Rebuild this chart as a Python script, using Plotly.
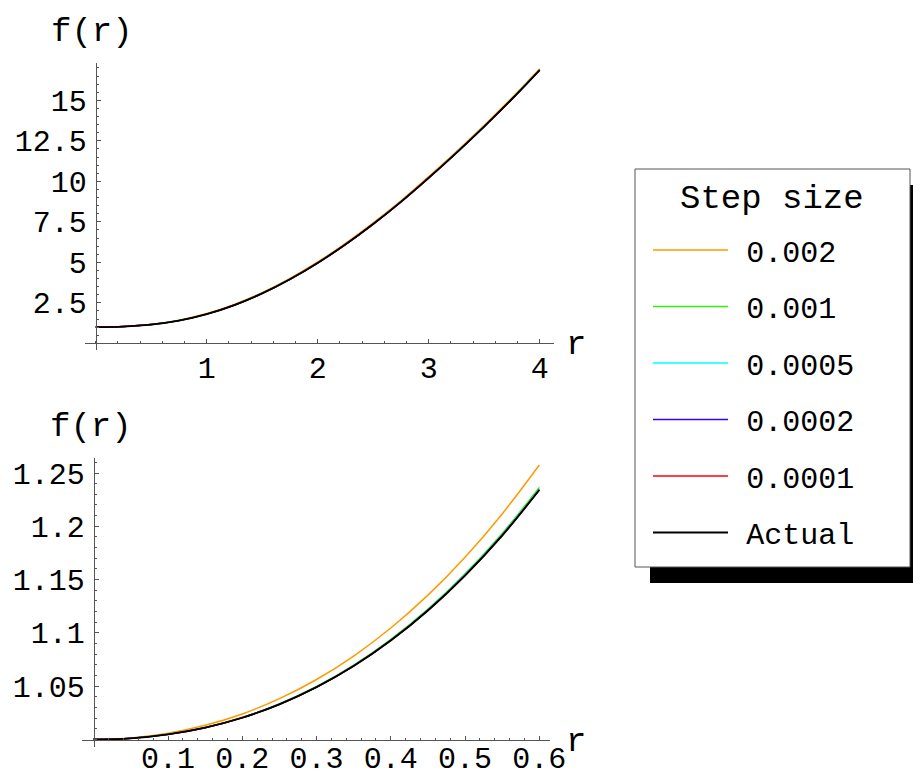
import plotly.graph_objects as go

W, H = 913, 776

# ---------------- data ----------------
step_labels = ["0.002", "0.001", "0.0005", "0.0002", "0.0001", "Actual"]
colors = ["#FF9900", "#33EE11", "#00FFFF", "#3300FF", "#FF0000", "#000000"]

# top panel: 0 <= r <= 4
r_top = [0, 0.25, 0.5, 0.75, 1.0, 1.25, 1.5, 1.75, 2.0, 2.25, 2.5, 2.75,
         3.0, 3.25, 3.5, 3.75, 4.0]
top_0002 = [1.0, 1.038, 1.169, 1.425, 1.835, 2.405, 3.13, 4.005, 5.02, 6.165,
            7.43, 8.80, 10.285, 11.835, 13.46, 15.16, 16.95]
top_0001 = [1.0, 1.034, 1.156, 1.403, 1.804, 2.365, 3.086, 3.957, 4.968,
            6.109, 7.37, 8.741, 10.222, 11.773, 13.394, 15.095, 16.886]
top_00005 = [1.0, 1.033, 1.155, 1.401, 1.802, 2.362, 3.083, 3.953, 4.964,
             6.104, 7.365, 8.735, 10.215, 11.766, 13.387, 15.087, 16.878]
top_00002 = [1.0, 1.033, 1.154, 1.400, 1.801, 2.361, 3.081, 3.951, 4.962,
             6.102, 7.362, 8.732, 10.212, 11.762, 13.383, 15.083, 16.873]
top_00001 = [1.0, 1.033, 1.154, 1.400, 1.800, 2.360, 3.080, 3.950, 4.961,
             6.101, 7.361, 8.731, 10.211, 11.761, 13.381, 15.081, 16.871]
top_actual = [1.0, 1.033, 1.154, 1.40, 1.80, 2.36, 3.08, 3.95, 4.96, 6.10,
              7.36, 8.73, 10.21, 11.76, 13.38, 15.08, 16.87]

# bottom panel: 0 <= r <= 0.6
r_bot = [0, 0.05, 0.1, 0.15, 0.2, 0.25, 0.3, 0.35, 0.4, 0.45, 0.5, 0.55, 0.6]
bot_0002 = [1.0, 1.0015, 1.0059, 1.0133, 1.0240, 1.0383, 1.0563, 1.0783,
            1.1046, 1.1354, 1.1710, 1.2116, 1.2575]
bot_0001 = [1.0, 1.0011, 1.0049, 1.0113, 1.0208, 1.0335, 1.0498, 1.0698,
            1.0940, 1.1224, 1.1555, 1.1933, 1.2364]
bot_00005 = [1.0, 1.0011, 1.0048, 1.0112, 1.0205, 1.0332, 1.0494, 1.0693,
             1.0933, 1.1216, 1.1545, 1.1921, 1.2349]
bot_00002 = [1.0, 1.0011, 1.0048, 1.0111, 1.0205, 1.0331, 1.0492, 1.0691,
             1.0930, 1.1213, 1.1541, 1.1916, 1.2344]
bot_00001 = [1.0, 1.0011, 1.0048, 1.0111, 1.0204, 1.0330, 1.0491, 1.0690,
             1.0929, 1.1211, 1.1539, 1.1914, 1.2342]
bot_actual = [1.0, 1.0011, 1.0048, 1.0111, 1.0204, 1.0330, 1.0491, 1.0689,
              1.0928, 1.1210, 1.1538, 1.1913, 1.2340]

top_ticks = [1, 2, 3, 4]
top_ticktext = ["1", "2", "3", "4"]
top_yticks = [2.5, 5, 7.5, 10, 12.5, 15]
top_yticktext = ["2.5", "5", "7.5", "10", "12.5", "15"]
bot_ticks = [0.1, 0.2, 0.3, 0.4, 0.5, 0.6]
bot_ticktext = ["0.1", "0.2", "0.3", "0.4", "0.5", "0.6"]
bot_yticks = [1.05, 1.1, 1.15, 1.2, 1.25]
bot_yticktext = ["1.05", "1.1", "1.15", "1.2", "1.25"]

top_series = [top_0002, top_0001, top_00005, top_00002, top_00001, top_actual]
bot_series = [bot_0002, bot_0001, bot_00005, bot_00002, bot_00001, bot_actual]

# ---------------- figure ----------------
FONT = "Liberation Mono"
TICK_SIZE = 30
LABEL_SIZE = 34
GAP = '<span style="font-size:22px">\u00a0</span>'
fig = go.Figure()

for i, (lab, col) in enumerate(zip(step_labels, colors)):
    w = 1.8 if lab == "Actual" else 1.5
    fig.add_trace(go.Scatter(x=r_top, y=top_series[i], mode="lines",
                             line=dict(color=col, width=w, shape="spline"),
                             name=GAP + lab, legendgroup=lab, showlegend=True,
                             xaxis="x", yaxis="y", hoverinfo="skip"))
    fig.add_trace(go.Scatter(x=r_bot, y=bot_series[i], mode="lines",
                             line=dict(color=col, width=w, shape="spline"),
                             name=lab, legendgroup=lab, showlegend=False,
                             xaxis="x2", yaxis="y2", hoverinfo="skip"))


def px_x(p):
    return p / W


def px_y(p):
    return 1 - p / H


AX = "#555555"
axis_common = dict(showline=True, linecolor=AX, linewidth=1, automargin=False,
                   ticks="inside", ticklen=4, tickwidth=1, tickcolor=AX,
                   showgrid=False, zeroline=False, anchor="free",
                   tickfont=dict(family=FONT, size=TICK_SIZE, color="black"))

# top panel geometry: r=0 at x=95.7px, 111 px per unit; f=0 at y=343.3px, 16.2 px per unit
fig.update_layout(
    xaxis=dict(axis_common, domain=[px_x(85), px_x(554)],
               range=[(85 - 95.7) / 111, (554 - 95.7) / 111],
               position=px_y(343.3), tickvals=top_ticks, ticktext=top_ticktext,
               ticklabelstandoff=-2,
               minor=dict(ticks="inside", ticklen=2, dtick=0.2, tick0=0,
                          tickcolor=AX)),
    yaxis=dict(axis_common, domain=[px_y(350), px_y(62.7)],
               range=[(343.3 - 350) / 16.2, (343.3 - 62.7) / 16.2],
               position=px_x(95.7), tickvals=top_yticks, ticktext=top_yticktext,
               ticklabelstandoff=3,
               minor=dict(ticks="inside", ticklen=2, dtick=0.5, tick0=0,
                          tickcolor=AX)),
    xaxis2=dict(axis_common, domain=[px_x(82), px_x(550)],
                range=[(82 - 93.8) / 742.5, (550 - 93.8) / 742.5],
                position=px_y(739.5), tickvals=bot_ticks, ticktext=bot_ticktext,
                ticklabelstandoff=-9,
                minor=dict(ticks="inside", ticklen=2, dtick=0.02, tick0=0,
                           tickcolor=AX)),
    yaxis2=dict(axis_common, domain=[px_y(746.7), px_y(458.3)],
                range=[1 + (739.5 - 746.7) / 1066, 1 + (739.5 - 458.3) / 1066],
                position=px_x(93.8), tickvals=bot_yticks, ticktext=bot_yticktext,
                ticklabelstandoff=3,
                minor=dict(ticks="inside", ticklen=2, dtick=0.01, tick0=1,
                           tickcolor=AX)),
)

# axis labels
for txt, xp, yp in [("f(r)", 92, 32), ("r", 576, 345), ("f(r)", 91, 427), ("r", 576, 742)]:
    fig.add_annotation(text=txt, x=px_x(xp), y=px_y(yp), xref="paper", yref="paper",
                       showarrow=False, xanchor="center", yanchor="middle",
                       font=dict(family=FONT, size=LABEL_SIZE, color="black"))

# legend frame: drop shadow + white box
fig.add_shape(type="rect", xref="paper", yref="paper",
              x0=px_x(650), x1=1.0, y0=px_y(583), y1=px_y(185),
              fillcolor="black", line=dict(width=0), layer="above")
fig.add_shape(type="rect", xref="paper", yref="paper",
              x0=px_x(635), x1=px_x(910), y0=px_y(567), y1=px_y(169),
              fillcolor="white", line=dict(color="#555555", width=1), layer="above")
fig.add_annotation(text="Step size", x=px_x(772), y=px_y(199), xref="paper",
                   yref="paper", showarrow=False, xanchor="center", yanchor="middle",
                   font=dict(family=FONT, size=LABEL_SIZE, color="black"))

fig.update_layout(
    width=W, height=H, margin=dict(l=0, r=0, t=0, b=0, autoexpand=False),
    paper_bgcolor="white", plot_bgcolor="white",
    showlegend=True,
    legend=dict(x=px_x(648), y=px_y(224), xanchor="left", yanchor="top",
                bgcolor="rgba(0,0,0,0)", borderwidth=0,
                font=dict(family=FONT, size=TICK_SIZE, color="black"),
                itemwidth=75, tracegroupgap=14.5),
)

fig.write_html("out.html")
